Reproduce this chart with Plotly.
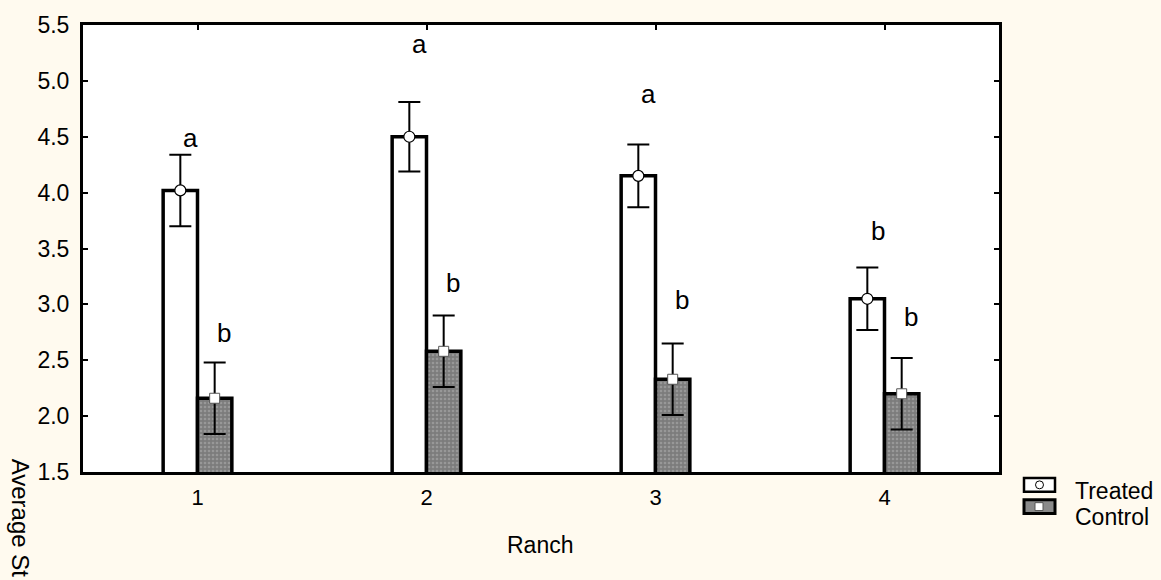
import plotly.graph_objects as go

# Ranch means with standard errors
ranches = [1, 2, 3, 4]
tick_labels = ["1", "2", "3", "4"]
treated_mean = [4.02, 4.50, 4.15, 3.05]
treated_err = [0.32, 0.31, 0.28, 0.28]
control_mean = [2.16, 2.58, 2.33, 2.20]
control_err = [0.32, 0.32, 0.32, 0.32]

# Significance letters and the heights they sit at
treated_letters = ["a", "a", "a", "b"]
treated_letter_y = [4.49, 5.33, 4.88, 3.66]
control_letters = ["b", "b", "b", "b"]
control_letter_y = [2.74, 3.19, 3.04, 2.89]

BAR_W = 0.15
BG = "#FFFAEF"
FONT = "Liberation Sans, Arial, sans-serif"

# plot area in pixels (for the hand-drawn legend / axis title)
L, R, T, B = 83, 999, 20, 472
W, H = 1161, 580


def px_x(px):
    return (px - L) / (R - L)


def px_y(py):
    return (B - py) / (B - T)


fig = go.Figure()

fig.add_trace(go.Bar(
    x=ranches, y=treated_mean, width=BAR_W, offset=-BAR_W,
    marker=dict(color="white", line=dict(color="black", width=3.5)),
    name="Treated", showlegend=False,
))
fig.add_trace(go.Bar(
    x=ranches, y=control_mean, width=BAR_W, offset=0,
    marker=dict(
        color="#808080",
        line=dict(color="black", width=3.5),
        pattern=dict(shape=".", bgcolor="#7c7c7c", fgcolor="#b4b4b4",
                     size=4, solidity=0.35),
    ),
    name="Control", showlegend=False,
))

fig.add_trace(go.Scatter(
    x=[r - BAR_W / 2 for r in ranches], y=treated_mean, mode="markers",
    marker=dict(symbol="circle", size=11, color="white",
                line=dict(color="black", width=1.2)),
    error_y=dict(type="data", array=treated_err, color="black",
                 thickness=2, width=11),
    showlegend=False,
))
fig.add_trace(go.Scatter(
    x=[r + BAR_W / 2 for r in ranches], y=control_mean, mode="markers",
    marker=dict(symbol="square", size=10, color="white",
                line=dict(color="#555555", width=1)),
    error_y=dict(type="data", array=control_err, color="black",
                 thickness=2, width=11),
    showlegend=False,
))

annotations = []
for r, t, ty in zip(ranches, treated_letters, treated_letter_y):
    annotations.append(dict(x=r - BAR_W / 2 + 0.045, y=ty, text=t,
                            showarrow=False, font=dict(size=26, color="black", family=FONT)))
for r, t, ty in zip(ranches, control_letters, control_letter_y):
    annotations.append(dict(x=r + BAR_W / 2 + 0.04, y=ty, text=t,
                            showarrow=False, font=dict(size=26, color="black", family=FONT)))

# axis titles
annotations.append(dict(xref="paper", yref="paper", x=px_x(540), y=px_y(546),
                        xanchor="center", yanchor="middle",
                        text="Ranch", showarrow=False,
                        font=dict(size=23, color="black", family=FONT)))
annotations.append(dict(xref="paper", yref="paper", x=px_x(20), y=px_y(456),
                        xanchor="center", yanchor="top", textangle=90,
                        text="Average St", showarrow=False,
                        font=dict(size=24, color="black", family=FONT)))

# legend entries
annotations.append(dict(xref="paper", yref="paper", x=px_x(1073), y=px_y(491),
                        xanchor="left", yanchor="middle", text="Treated", showarrow=False,
                        font=dict(size=23, color="black", family=FONT)))
annotations.append(dict(xref="paper", yref="paper", x=px_x(1073), y=px_y(518),
                        xanchor="left", yanchor="middle", text="Control", showarrow=False,
                        font=dict(size=23, color="black", family=FONT)))

shapes = [
    dict(type="rect", xref="paper", yref="paper",
         x0=px_x(1024), x1=px_x(1055), y0=px_y(478), y1=px_y(492),
         fillcolor="white", line=dict(color="black", width=2.5)),
    dict(type="circle", xref="paper", yref="paper",
         x0=px_x(1035.5), x1=px_x(1043.5), y0=px_y(481), y1=px_y(489),
         fillcolor="white", line=dict(color="black", width=1)),
    dict(type="rect", xref="paper", yref="paper",
         x0=px_x(1024), x1=px_x(1055), y0=px_y(500), y1=px_y(514),
         fillcolor="#8a8a8a", line=dict(color="black", width=3)),
    dict(type="rect", xref="paper", yref="paper",
         x0=px_x(1035), x1=px_x(1043), y0=px_y(503), y1=px_y(511),
         fillcolor="white", line=dict(color="#555555", width=1)),
]

fig.update_layout(
    width=W, height=H,
    margin=dict(l=L, r=W - R, t=T, b=H - B),
    paper_bgcolor=BG, plot_bgcolor="white",
    barmode="overlay",
    showlegend=False,
    font=dict(family=FONT, color="black"),
    annotations=annotations,
    shapes=shapes,
)
fig.update_xaxes(
    range=[0.5, 4.5], tickvals=ranches, ticktext=tick_labels,
    showline=True, linecolor="black", linewidth=3, mirror="ticks",
    ticks="inside", ticklen=5, tickwidth=2, tickcolor="black",
    showgrid=False, zeroline=False, tickfont=dict(size=22), ticklabelstandoff=4,
)
fig.update_yaxes(
    range=[1.5, 5.5], dtick=0.5, tickformat=".1f",
    showline=True, linecolor="black", linewidth=3, mirror="ticks",
    ticks="inside", ticklen=5, tickwidth=2, tickcolor="black",
    showgrid=False, zeroline=False, tickfont=dict(size=23), ticklabelstandoff=6,
)

fig.write_html("out.html")
